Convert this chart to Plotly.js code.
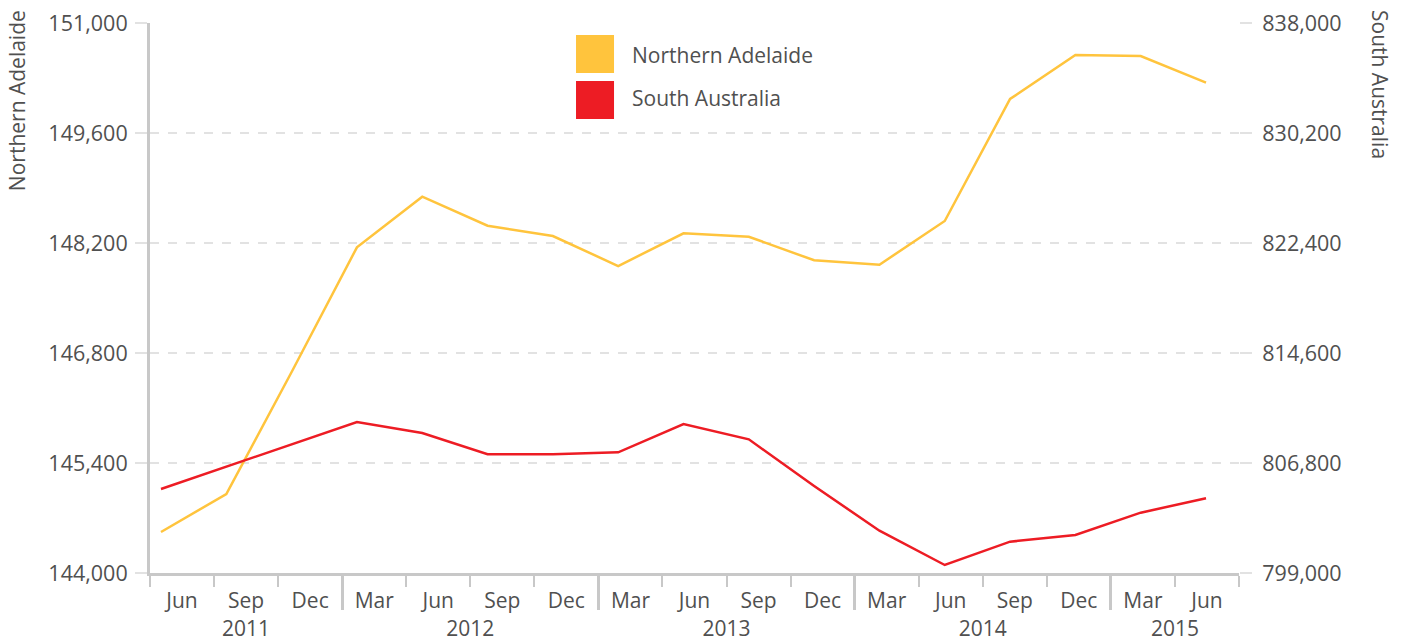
<!DOCTYPE html>
<html>
<head>
<meta charset="utf-8">
<script src="https://cdn.plot.ly/plotly-3.0.1.min.js"></script>
<style>
html,body{margin:0;padding:0;background:#fff;}
#chart{width:1408px;height:644px;}
</style>
</head>
<body>
<div id="chart"></div>
<script>
// ---- data ----
const years = ['2011','2011','2011','2012','2012','2012','2012','2013','2013','2013','2013','2014','2014','2014','2014','2015','2015'];
const months = ['Jun','Sep','Dec','Mar','Jun','Sep','Dec','Mar','Jun','Sep','Dec','Mar','Jun','Sep','Dec','Mar','Jun'];
const northernAdelaide = [144522,145005,146558,148145,148789,148420,148289,147907,148323,148280,147980,147924,148480,150033,150593,150580,150240];
const southAustralia = [804956,806537,808126,809707,808927,807417,807417,807559,809565,808480,805169,801998,799567,801220,801695,803278,804297];
const seriesNames = ['Northern Adelaide','South Australia'];
const leftTicks = [144000,145400,146800,148200,149600,151000];
const rightTicks = [799000,806800,814600,822400,830200,838000];

// derived positions for the label axes
const idx = months.map((m,i)=>i);
const yearNames = [...new Set(years)];
const yearCenters = yearNames.map(y=>{const ii=idx.filter(i=>years[i]===y);return (ii[0]+ii[ii.length-1])/2;});
const yearBounds = idx.filter(i=>i>0 && years[i]!==years[i-1]).map(i=>i-0.5);
const catRange = [-0.5, months.length-0.5];

const YEL = '#FFC43D', RED = '#ED1C24';
const TXT = '#505050', AX = '#c8c8c8', GRID = '#e2e2e2';
const FONT = 'Open Sans, Noto Sans, sans-serif';
const nulls = idx.map(()=>null);

const traces = [
  {x: idx, y: nulls, xaxis:'x', yaxis:'y', type:'scatter', mode:'lines', hoverinfo:'skip', showlegend:false},
  {x: idx, y: nulls, xaxis:'x3', yaxis:'y', type:'scatter', mode:'lines', hoverinfo:'skip', showlegend:false},
  {x: idx, y: nulls, xaxis:'x4', yaxis:'y', type:'scatter', mode:'lines', hoverinfo:'skip', showlegend:false},
  {
    x: idx, y: northernAdelaide, xaxis:'x2', yaxis:'y', name: seriesNames[0],
    type:'scatter', mode:'lines', line:{color:YEL, width:2.5}, showlegend:false
  },
  {
    x: idx, y: southAustralia, xaxis:'x2', yaxis:'y2', name: seriesNames[1],
    type:'scatter', mode:'lines', line:{color:RED, width:2.5}, showlegend:false
  }
];

const xfont = {family:FONT, size:21, color:TXT};
const yfont = {family:FONT, size:21.5, color:TXT};
const layout = {
  width:1408, height:644,
  margin:{l:150, r:169, t:23, b:71},
  paper_bgcolor:'#fff', plot_bgcolor:'#fff',
  showlegend:false,
  font:{family:FONT, color:TXT},
  xaxis:{ // month labels + short boundary ticks
    type:'linear', range:catRange, showgrid:false, zeroline:false,
    showline:true, linecolor:AX, linewidth:3,
    tickmode:'array', tickvals:idx, ticktext:months,
    ticks:'outside', ticklen:7, tickcolor:'rgba(0,0,0,0)',
    minor:{tickmode:'linear', tick0:-0.5, dtick:1, ticks:'outside', ticklen:11, tickcolor:AX, tickwidth:2, showgrid:false},
    tickfont: xfont
  },
  xaxis2:{
    overlaying:'x', type:'linear', range:[-0.1684, 16.505], visible:false
  },
  xaxis3:{ // year dividers
    overlaying:'x', type:'linear', range:catRange, showgrid:false, zeroline:false, showline:false,
    tickmode:'array', tickvals:yearBounds, showticklabels:false,
    ticks:'outside', ticklen:36, tickcolor:AX, tickwidth:3
  },
  xaxis4:{ // year labels
    overlaying:'x', type:'linear', range:catRange, showgrid:false, zeroline:false, showline:false,
    tickmode:'array', tickvals:yearCenters, ticktext:yearNames,
    ticks:'', ticklabelstandoff:41, tickfont: xfont
  },
  yaxis:{
    range:[144000,151000], tickvals:leftTicks, tickformat:',d',
    showgrid:true, gridcolor:GRID, gridwidth:2, griddash:'dash',
    zeroline:false, showline:true, linecolor:AX, linewidth:3,
    ticks:'outside', ticklen:12, tickcolor:GRID, tickwidth:2,
    ticklabelstandoff:3, tickfont: yfont
  },
  yaxis2:{
    overlaying:'y', side:'right', anchor:'x',
    range:[799000,838000], tickvals:rightTicks, tickformat:',d',
    showgrid:false, zeroline:false, showline:false,
    ticks:'outside', ticklen:12, tickcolor:GRID, tickwidth:2,
    ticklabelstandoff:6, tickfont: yfont
  },
  shapes:[
    {type:'rect', xref:'paper', yref:'paper', x0:0.3912, x1:0.4261, y0:0.9091, y1:0.9782, fillcolor:YEL, line:{width:0}},
    {type:'rect', xref:'paper', yref:'paper', x0:0.3912, x1:0.4261, y0:0.8255, y1:0.8945, fillcolor:RED, line:{width:0}}
  ],
  annotations:[
    {text:seriesNames[0], xref:'paper', yref:'paper', x:0.4407, y:0.9418, xanchor:'left', yanchor:'middle', showarrow:false, font:{family:FONT, size:21, color:TXT}},
    {text:seriesNames[1], xref:'paper', yref:'paper', x:0.4407, y:0.8636, xanchor:'left', yanchor:'middle', showarrow:false, font:{family:FONT, size:21, color:TXT}},
    {text:seriesNames[0], xref:'paper', yref:'paper', x:-0.1221, y:0.858, xanchor:'center', yanchor:'middle', textangle:-90, showarrow:false, font:{family:FONT, size:21, color:TXT}},
    {text:seriesNames[1], xref:'paper', yref:'paper', x:1.1295, y:0.889, xanchor:'center', yanchor:'middle', textangle:90, showarrow:false, font:{family:FONT, size:21, color:TXT}}
  ]
};

Plotly.newPlot('chart', traces, layout, {displayModeBar:false, staticPlot:true});
</script>
</body>
</html>
